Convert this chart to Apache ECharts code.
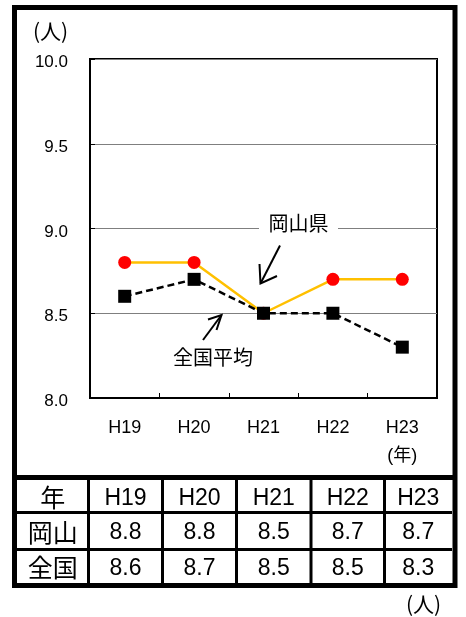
<!DOCTYPE html>
<html>
<head>
<meta charset="utf-8">
<script src="https://cdn.jsdelivr.net/npm/echarts@6/dist/echarts.min.js"></script>
<style>
html,body{margin:0;padding:0;background:#fff;}
#c{width:466px;height:617px;}
</style>
</head>
<body>
<div id="c"></div>
<script>
// ---- data ----
const categories = ['H19', 'H20', 'H21', 'H22', 'H23'];
const okayama = [8.8, 8.8, 8.5, 8.7, 8.7];
const national = [8.6, 8.7, 8.5, 8.5, 8.3];
const yMin = 8.0, yMax = 10.0, yInterval = 0.5;
const rowHeads = ['年', '岡山', '全国'];
const seriesNames = ['岡山県', '全国平均'];
const unitText = '(人)';
const yearText = '(年)';

// ---- layout / style ----
const CJK = "'Noto Sans CJK JP', sans-serif";
const LAT = "'Liberation Sans', 'Noto Sans CJK JP', sans-serif";

const chart = echarts.init(document.getElementById('c'), null, {renderer: 'canvas'});

const colEdges = [17, 88.5, 162.5, 236.5, 311, 384.5, 452];
const rowEdges = [480, 512.5, 549.5, 583];

function cellText(txt, cx, cy, isCJK) {
  return {
    type: 'text', x: cx, y: cy + (isCJK ? 1 : 2), z: 100,
    style: {
      text: txt, x: 0, y: 0,
      align: 'center', verticalAlign: 'middle',
      textAlign: 'center', textVerticalAlign: 'middle',
      fontSize: isCJK ? 25 : 23, fontFamily: isCJK ? CJK : LAT, fill: '#000'
    }
  };
}

const graphics = [];
// outer frame
graphics.push({type: 'rect', z: 100, shape: {x: 14.5, y: 7.5, width: 440.5, height: 578},
  style: {fill: 'none', stroke: '#000', lineWidth: 5}});
// divider between chart and table
graphics.push({type: 'line', z: 100, shape: {x1: 14.5, y1: 477.5, x2: 455, y2: 477.5},
  style: {stroke: '#000', lineWidth: 5}});
// table row lines
[rowEdges[1], rowEdges[2]].forEach(y => graphics.push({type: 'line', z: 100,
  shape: {x1: 17, y1: y, x2: 452, y2: y}, style: {stroke: '#000', lineWidth: 3}}));
// table column lines
colEdges.slice(1, -1).forEach(x => graphics.push({type: 'line', z: 100,
  shape: {x1: x, y1: 480, x2: x, y2: 583}, style: {stroke: '#000', lineWidth: 3}}));
// table texts
const rows = [categories, okayama.map(v => v.toFixed(1)), national.map(v => v.toFixed(1))];
rows.forEach((row, r) => {
  const cy = (rowEdges[r] + rowEdges[r + 1]) / 2;
  graphics.push(cellText(rowHeads[r], (colEdges[0] + colEdges[1]) / 2, cy, true));
  row.forEach((v, c) => {
    graphics.push(cellText(v, (colEdges[c + 1] + colEdges[c + 2]) / 2, cy, false));
  });
});
// units
graphics.push({type: 'text', z: 100, left: 33, top: 21,
  style: {text: unitText, fontSize: 21, fontFamily: CJK, fill: '#000'}});
graphics.push({type: 'text', z: 100, left: 406, top: 594,
  style: {text: unitText, fontSize: 21, fontFamily: CJK, fill: '#000'}});

// annotations
graphics.push({type: 'rect', z: 99, shape: {x: 259, y: 213, width: 79, height: 21}, style: {fill: '#fff'}});
graphics.push({type: 'text', z: 100, x: 298.5, y: 223,
  style: {text: seriesNames[0], x: 0, y: 0, align: 'center', verticalAlign: 'middle',
    textAlign: 'center', textVerticalAlign: 'middle', fontSize: 20, fontFamily: CJK, fill: '#000'}});
graphics.push({type: 'text', z: 100, x: 213, y: 357,
  style: {text: seriesNames[1], x: 0, y: 0, align: 'center', verticalAlign: 'middle',
    textAlign: 'center', textVerticalAlign: 'middle', fontSize: 20, fontFamily: CJK, fill: '#000'}});
const arrowStyle = {stroke: '#000', lineWidth: 2, fill: 'none'};
graphics.push({type: 'polyline', z: 100, shape: {points: [[280, 245.5], [260.5, 283.5]]}, style: arrowStyle});
graphics.push({type: 'polyline', z: 100, shape: {points: [[259.5, 264], [260.5, 283.5], [277, 276]]}, style: arrowStyle});
graphics.push({type: 'polyline', z: 100, shape: {points: [[203, 340], [221.5, 315]]}, style: arrowStyle});
graphics.push({type: 'polyline', z: 100, shape: {points: [[208, 319.5], [221.5, 315], [216.5, 330]]}, style: arrowStyle});

const option = {
  backgroundColor: '#fff',
  animation: false,
  grid: {left: 90, right: 29, top: 59, bottom: 219, show: true, borderColor: '#000', borderWidth: 2, backgroundColor: 'transparent'},
  xAxis: {
    type: 'category', data: categories, boundaryGap: true,
    axisLine: {lineStyle: {color: '#000', width: 2}},
    axisTick: {show: true, inside: true, length: 5, lineStyle: {color: '#000', width: 1}},
    axisLabel: {
      color: '#000', fontSize: 18, fontFamily: LAT, margin: 16, lineHeight: 28,
      formatter: (v, i) => i === categories.length - 1 ? v + '\n' + yearText : v
    },
    splitLine: {show: false}
  },
  yAxis: {
    type: 'value', min: yMin, max: yMax, interval: yInterval,
    axisLine: {show: true, lineStyle: {color: '#000', width: 2}},
    axisTick: {show: true, inside: true, length: 5, lineStyle: {color: '#000', width: 1}},
    axisLabel: {color: '#000', fontSize: 17, fontFamily: LAT, margin: 22,
      formatter: v => '{a|' + v.toFixed(1) + '}',
      rich: {a: {fontSize: 17, fontFamily: LAT, color: '#000', padding: [7, 0, 0, 0]}}},
    splitLine: {show: true, lineStyle: {color: '#7f7f7f', width: 1}}
  },
  series: [
    {
      name: seriesNames[0], type: 'line', data: okayama, z: 3,
      symbol: 'circle', symbolSize: 13,
      itemStyle: {color: '#ff0000'},
      lineStyle: {color: '#ffc000', width: 2.5}
    },
    {
      name: seriesNames[1], type: 'line', data: national, z: 4,
      symbol: 'rect', symbolSize: 13,
      itemStyle: {color: '#000'},
      lineStyle: {color: '#000', width: 2.5, type: [7, 4]}
    }
  ],
  graphic: {elements: graphics}
};
chart.setOption(option);
</script>
</body>
</html>
